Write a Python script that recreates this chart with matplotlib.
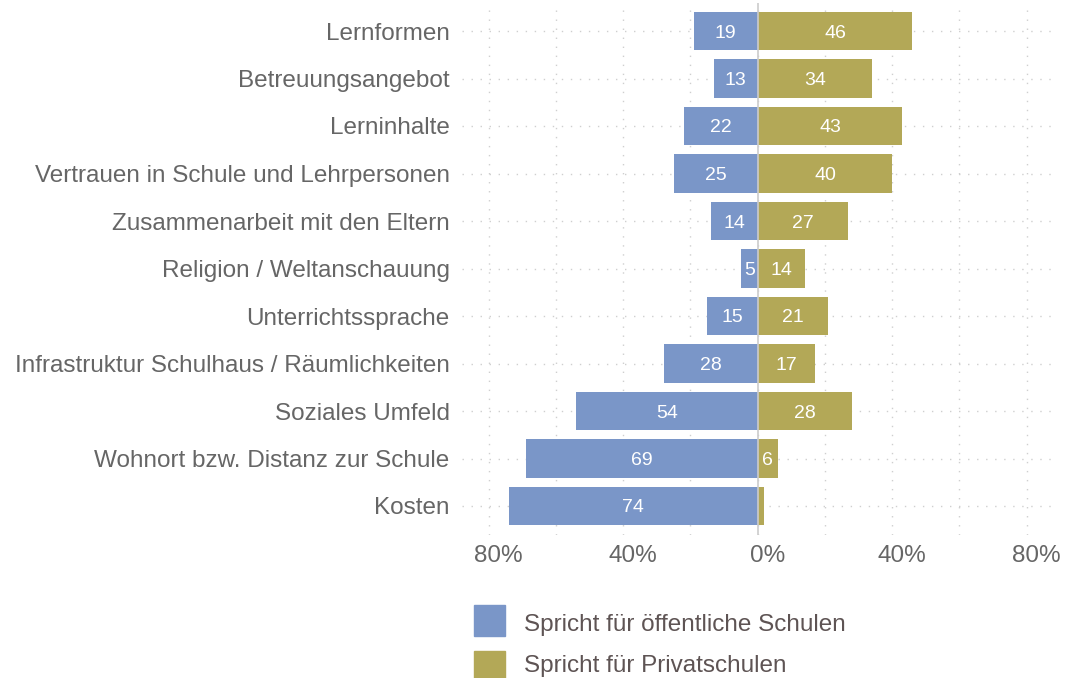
import matplotlib
matplotlib.use("Agg")
import matplotlib.pyplot as plt
from matplotlib.patches import Rectangle
from matplotlib.transforms import ScaledTranslation
import numpy as np

categories = [
    "Lernformen",
    "Betreuungsangebot",
    "Lerninhalte",
    "Vertrauen in Schule und Lehrpersonen",
    "Zusammenarbeit mit den Eltern",
    "Religion / Weltanschauung",
    "Unterrichtssprache",
    "Infrastruktur Schulhaus / Räumlichkeiten",
    "Soziales Umfeld",
    "Wohnort bzw. Distanz zur Schule",
    "Kosten",
]
public_vals = [19, 13, 22, 25, 14, 5, 15, 28, 54, 69, 74]
private_vals = [46, 34, 43, 40, 27, 14, 21, 17, 28, 6, 2]
xticks = [-80, -40, 0, 40, 80]
xtick_labels = ["80%", "40%", "0%", "40%", "80%"]
legend_labels = ["Spricht für öffentliche Schulen", "Spricht für Privatschulen"]

c_pub = "#7A96C8"
c_priv = "#B3A857"
grid_c = "#CFCFCF"
text_c = "#666666"
legend_text_c = "#5E5454"

plt.rcParams['font.family'] = ['Liberation Sans', 'DejaVu Sans']

fig = plt.figure(figsize=(10.69, 6.78), dpi=100)
ax = fig.add_axes([461.8/1069, 1 - 534.5/678, 591.8/1069, 532/678])

n = len(categories)
y = np.arange(n)[::-1]

# grid
for gx in range(-80, 81, 20):
    ax.axvline(gx, color=grid_c, lw=1, ls=(0, (1, 5.5)), zorder=0)
for gy in y:
    ax.axhline(gy, color=grid_c, lw=1, ls=(0, (1, 5.5)), zorder=0)
ax.axvline(0, color="#CCCCCC", lw=1.2, zorder=3)

pub = -np.array(public_vals, dtype=float)
priv = np.array(private_vals, dtype=float)
ax.barh(y, pub, height=0.8, color=c_pub, zorder=2)
ax.barh(y, priv, height=0.8, color=c_priv, zorder=2)

for yi, pv, qv in zip(y, public_vals, private_vals):
    ax.text(-pv / 2, yi, f"{pv}", ha="center", va="center_baseline", color="white", fontsize=14, zorder=4)
    if qv >= 5:
        ax.text(qv / 2, yi, f"{qv}", ha="center", va="center_baseline", color="white", fontsize=14, zorder=4)

ax.set_xlim(-88, 88)
ax.set_ylim(-0.6, n - 1 + 0.6)
ax.set_yticks(y)
ax.set_yticklabels(categories, fontsize=17.5, color=text_c)
ax.set_xticks(xticks)
ax.set_xticklabels(xtick_labels, fontsize=17.5, color=text_c)
ax.tick_params(axis="both", length=0)
ax.tick_params(axis="y", pad=8.7)
ax.tick_params(axis="x", pad=7.7)
off = ScaledTranslation(9.5/100, 0, fig.dpi_scale_trans)
for lab in ax.get_xticklabels():
    lab.set_transform(lab.get_transform() + off)
for s in ax.spines.values():
    s.set_visible(False)

# legend
sq_tops = [605, 651]
baselines = [631, 672]
for lab, col, ytop, bl in zip(legend_labels, [c_pub, c_priv], sq_tops, baselines):
    fig.add_artist(Rectangle((474/1069, 1 - (ytop + 31)/678), 31/1069, 31/678,
                             transform=fig.transFigure, color=col))
    fig.text(524/1069, 1 - bl/678, lab, fontsize=17.5, color=legend_text_c,
             ha="left", va="baseline")

fig.savefig("out.png", dpi=100)
